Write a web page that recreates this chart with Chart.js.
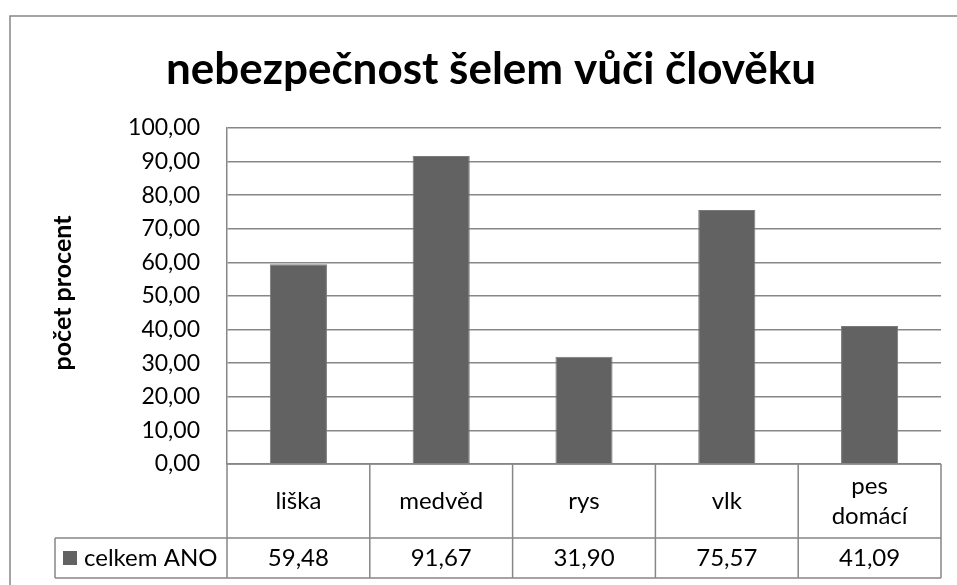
<!DOCTYPE html>
<html>
<head>
<meta charset="utf-8">
<script src="https://cdn.jsdelivr.net/npm/chart.js@4/dist/chart.umd.min.js"></script>
<style>
    body { margin: 0; background: #fff; }
    #wrap { width: 957px; height: 585px; }
</style>
</head>
<body>
<div id="wrap"><canvas id="chart" width="957" height="585"></canvas></div>
<script>
const chartTitle = "nebezpečnost šelem vůči člověku";
const axisTitle = "počet procent";
const seriesName = "celkem ANO";
const categories = [["liška"], ["medvěd"], ["rys"], ["vlk"], ["pes", "domácí"]];
const values = [59.48, 91.67, 31.90, 75.57, 41.09];
const yTicks = [0, 10, 20, 30, 40, 50, 60, 70, 80, 90, 100];

const lineColor = "#878787";
const barColor = "#626262";
const fontFamily = "Lato, 'Open Sans', sans-serif";

const fmt = v => v.toFixed(2).replace(".", ",");

// frame, titles and the data table under the plot
const excelLook = {
    id: "excelLook",
    afterDraw(chart) {
        const ctx = chart.ctx;
        const area = chart.chartArea;
        const x = chart.scales.x;
        const n = categories.length;
        const colW = (area.right - area.left) / n;
        const row1Bottom = 538;
        const row2Bottom = 578;
        const legendLeft = 55;

        ctx.save();
        ctx.strokeStyle = lineColor;

        // outer frame (cut at right and bottom)
        ctx.lineWidth = 1.5;
        ctx.beginPath();
        ctx.moveTo(10, 600);
        ctx.lineTo(10, 16);
        ctx.lineTo(960, 16);
        ctx.stroke();

        // table lines
        ctx.beginPath();
        ctx.moveTo(area.left, area.bottom);
        ctx.lineTo(area.right, area.bottom);
        ctx.moveTo(legendLeft, row1Bottom);
        ctx.lineTo(area.right, row1Bottom);
        ctx.moveTo(legendLeft, row2Bottom);
        ctx.lineTo(area.right, row2Bottom);
        ctx.moveTo(legendLeft, row1Bottom);
        ctx.lineTo(legendLeft, row2Bottom);
        for (let i = 0; i <= n; i++) {
            const bx = x.getPixelForValue(Math.min(i, n - 1)) + (i === n ? colW / 2 : -colW / 2);
            ctx.moveTo(bx, area.bottom);
            ctx.lineTo(bx, row2Bottom);
        }
        ctx.stroke();

        // table text
        ctx.fillStyle = "#000";
        ctx.textAlign = "center";
        ctx.textBaseline = "middle";
        ctx.font = "24px " + fontFamily;
        const row1Mid = (area.bottom + row1Bottom) / 2;
        const row2Mid = (row1Bottom + row2Bottom) / 2;
        categories.forEach((lines, i) => {
            const cx = x.getPixelForValue(i);
            const lh = 30;
            lines.forEach((t, j) => {
                ctx.fillText(t, cx, row1Mid + (j - (lines.length - 1) / 2) * lh);
            });
            ctx.fillText(fmt(values[i]), cx, row2Mid);
        });

        // legend key + series name
        ctx.fillStyle = barColor;
        ctx.fillRect(63, row2Mid - 7, 14, 14);
        ctx.fillStyle = "#000";
        ctx.textAlign = "left";
        ctx.fillText(seriesName, 84, row2Mid);

        // chart title
        ctx.textAlign = "center";
        ctx.textBaseline = "alphabetic";
        ctx.font = "bold 44px " + fontFamily;
        ctx.fillText(chartTitle, 491, 84);

        // axis title
        ctx.translate(63, 293);
        ctx.rotate(-Math.PI / 2);
        ctx.textBaseline = "middle";
        ctx.font = "bold 25px " + fontFamily;
        ctx.fillText(axisTitle, 0, 0);

        ctx.restore();
    }
};

new Chart(document.getElementById("chart"), {
    type: "bar",
    data: {
        labels: categories.map(c => c.join(" ")),
        datasets: [{
            label: seriesName,
            data: values,
            backgroundColor: barColor,
            borderColor: "#7a7a7a",
            borderWidth: 1,
            barPercentage: 0.4,
            categoryPercentage: 1.0
        }]
    },
    options: {
        responsive: false,
        devicePixelRatio: 1,
        animation: false,
        layout: {
            padding: { left: 0, top: 128, right: 16, bottom: 121 }
        },
        plugins: {
            legend: { display: false },
            title: { display: false },
            tooltip: { enabled: false }
        },
        scales: {
            x: {
                display: false
            },
            y: {
                min: 0,
                max: 100,
                afterFit(scale) { scale.width = 227; },
                afterBuildTicks(scale) { scale.ticks = yTicks.map(v => ({ value: v })); },
                border: { display: true, color: lineColor, width: 1.5 },
                grid: { color: lineColor, lineWidth: 1.5, drawTicks: false },
                ticks: {
                    padding: 27,
                    color: "#000",
                    font: { family: fontFamily, size: 23 },
                    callback: v => fmt(v)
                }
            }
        }
    },
    plugins: [excelLook]
});
</script>
</body>
</html>
